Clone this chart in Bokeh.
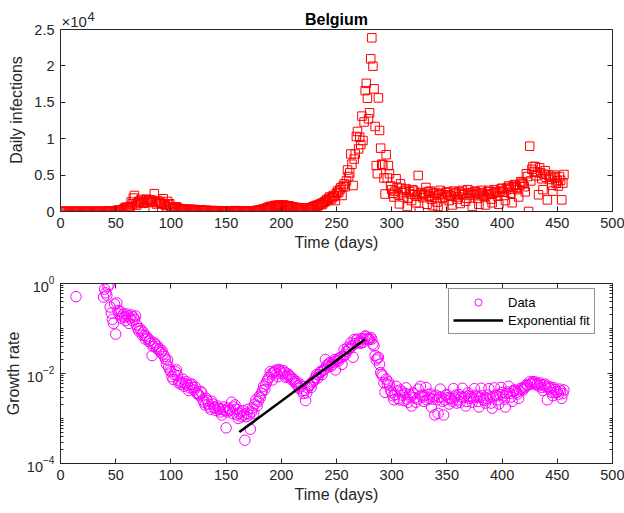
from bokeh.plotting import figure
from bokeh.models import (Range1d, FixedTicker, LinearAxis, LogAxis, Label,
                          Legend, LegendItem, LogTickFormatter, Span)
from bokeh.layouts import column
from bokeh.embed import file_html
from bokeh.resources import INLINE

nan = float("nan")

# Daily infections, one value per day starting at day 0
daily_cases = [
    0, 0, 0, 0, 0, 0, 0, 0, 0, 0,
    0, 0, 0, 0, 1, 0, 0, 0, 0, 0,
    0, 0, 0, 0, 0, 0, 0, 0, 0, 0,
    0, 0, 0, 0, 0, 0, 0, 0, 0, 1,
    6, 5, 10, 27, 59, 60, 31, 39, 28, 47,
    85, 160, 130, 197, 172, 185, 243, 309, 462, 558,
    586, 342, 526, 668, 1298, 1049, 1850, 2200, 1063, 876,
    1189, 1384, 1422, 1661, 1260, 1123, 1209, 1580, 1684, 1351,
    1629, 1447, 1580, 1236, 530, 2454, 1329, 1032, 1496, 1293,
    1236, 1120, 1100, 1750, 1000, 880, 640, 1380, 960, 1060,
    650, 520, 360, 450, 600, 640, 500, 400, 330, 300,
    280, 290, 250, 310, 330, 270, 190, 230, 280, 290,
    250, 220, 260, 200, 190, 180, 170, 210, 200, 140,
    120, 110, 150, 140, 110, 100, 90, 130, 120, 100,
    95, 85, 110, 100, 90, 80, 70, 95, 105, 90,
    40, 85, 100, 90, 95, 100, 80, 110, 120, 95,
    70, 60, 80, 75, 55, 65, 50, 20, 60, 70,
    60, 80, 35, 70, 90, 60, 100, 130, 120, 150,
    180, 200, 250, 300, 350, 280, 400, 500, 550, 600,
    700, 650, 500, 750, 800, 850, 700, 600, 900, 850,
    800, 750, 900, 850, 650, 700, 800, 750, 700, 600,
    650, 600, 550, 500, 550, 450, 400, 500, 450, 350,
    300, 350, 250, 350, 450, 500, 500, 450, 600, 650,
    700, 800, 850, 750, 900, 1000, 1100, 950, 1200, 1300,
    1400, 1600, 1500, 1800, 2000, 1700, 1900, 2200, 2100, 1500,
    2500, 2800, 2600, 3000, 3250, 2200, 3500, 3800, 3400, 4200,
    5700, 4800, 5300, 7900, 6500, 3570, 7200, 7900, 10300, 11000,
    8600, 10200, 9200, 13100, 9750, 12300, 16600, 17600, 15560, 12730,
    13560, 20970, 23860, 19960, 16850, 11680, 6300, 5200, 15600, 11130,
    8700, 6500, 6400, 4600, 2400, 7800, 4600, 6300, 5200, 3500,
    3000, 2500, 2000, 2800, 4500, 3300, 2300, 1050, 3800, 3200,
    2600, 2000, 2900, 3100, 690, 1800, 2700, 2400, 1500, 3000,
    2800, 2300, 1200, 2100, 4950, 0, 2600, 2400, 1900, 2300,
    2500, 3300, 1000, 2700, 2100, 2800, 1700, 800, 2500, 2200,
    2600, 1300, 700, 2300, 2900, 2400, 1900, 600, 2000, 2600,
    2700, 2300, 1500, 2200, 2100, 900, 2800, 2400, 2600, 1700,
    2000, 2700, 1100, 2400, 2900, 2300, 2500, 1400, 1800, 3000,
    2600, 2200, 2500, 700, 2300, 2800, 2700, 2500, 1800, 1000,
    2400, 2900, 2600, 2200, 2000, 900, 2300, 2700, 2900, 2400,
    1700, 1200, 2500, 3000, 2700, 2600, 2100, 1000, 2800, 3100,
    3200, 2700, 2200, 1500, 3000, 3300, 3500, 3100, 2500, 1200,
    3400, 3700, 3600, 3300, 3000, 2000, 3600, 4100, 4000, 3800,
    3400, 2700, 5180, 4800, 0, 8970, 4200, 5800, 6180, 5500,
    6180, 4900, 5400, 2300, 6000, 5300, 4500, 3000, 5100, 5600,
    4700, 1600, 5000, 4400, 4800, 3600, 2800, 5000, 4600, 3900,
    4200, 3500, 4800, 4300, 1600, 3900, 5080,
]

# Growth rate, one value per day (nan where no point is drawn)
growth_rate = [
    nan, nan, nan, nan, nan, nan, nan, nan, nan, nan,
    nan, nan, nan, nan, 0.51, nan, nan, nan, nan, nan,
    nan, nan, nan, nan, nan, nan, nan, nan, nan, nan,
    nan, nan, nan, nan, nan, nan, nan, nan, nan, 0.50,
    0.75, 0.62, 0.55, 0.85, 0.95, 0.30, 0.22, 0.16, 0.13, 0.35,
    0.075, 0.37, 0.25, 0.21, 0.24, 0.17, 0.19, 0.21, 0.18, 0.15,
    0.21, 0.19, 0.13, 0.17, 0.2, 0.15, 0.18, 0.16, 0.19, 0.12,
    0.10, 0.087, 0.10, 0.09, 0.072, 0.083, 0.07, 0.058, 0.066, 0.06,
    0.052, 0.055, 0.047, 0.025, 0.04, 0.048, 0.044, 0.036, 0.04, 0.033,
    0.035, 0.029, 0.032, 0.027, 0.024, 0.021, 0.016, 0.02, 0.014, 0.012,
    0.011, 0.0085, 0.0074, 0.0095, 0.011, 0.012, 0.009, 0.0062, 0.0068, 0.0058,
    0.0063, 0.0075, 0.0052, 0.006, 0.0066, 0.0055, 0.0042, 0.0048, 0.0056, 0.0058,
    0.0049, 0.0043, 0.005, 0.0038, 0.0036, 0.0034, 0.0032, 0.004, 0.0037, 0.0026,
    0.0023, 0.002, 0.0028, 0.0025, 0.0021, 0.0018, 0.0016, 0.0024, 0.0021, 0.0018,
    0.0017, 0.0015, 0.0019, 0.0017, 0.0016, 0.0014, 0.0012, 0.0016, 0.0018, 0.0015,
    0.00062, 0.0014, 0.0017, 0.0015, 0.0016, 0.0023, 0.0013, 0.0018, 0.002, 0.0016,
    0.0012, 0.001, 0.0013, 0.0014, 0.0011, 0.0015, 0.0012, 0.00033, 0.0011, 0.0013,
    0.0016, 0.0012, 0.00058, 0.0014, 0.0017, 0.0013, 0.0021, 0.0026, 0.0019, 0.0024,
    0.0031, 0.0029, 0.0036, 0.0042, 0.0052, 0.0044, 0.0058, 0.0068, 0.0075, 0.0082,
    0.011, 0.0098, 0.0072, 0.0105, 0.0112, 0.0118, 0.0098, 0.0085, 0.0123, 0.0115,
    0.0108, 0.0098, 0.0115, 0.0106, 0.0082, 0.0087, 0.0098, 0.0092, 0.0086, 0.0074,
    0.0079, 0.0073, 0.0066, 0.006, 0.0066, 0.0054, 0.0047, 0.0058, 0.0052, 0.0041,
    0.0036, 0.0042, 0.0025, 0.0037, 0.0048, 0.0055, 0.0055, 0.0049, 0.0064, 0.0068,
    0.0072, 0.0082, 0.0095, 0.0079, 0.0093, 0.0105, 0.0112, 0.0095, 0.0118, 0.0124,
    0.0204, 0.0152, 0.014, 0.0163, 0.0175, 0.0145, 0.0158, 0.0178, 0.0204, 0.012,
    0.019, 0.021, 0.019, 0.022, 0.023, 0.016, 0.024, 0.034, 0.026, 0.031,
    0.038, 0.034, 0.036, 0.048, 0.041, 0.023, 0.057, 0.046, 0.055, 0.058,
    0.048, 0.052, 0.047, 0.06, 0.049, 0.056, 0.068, 0.066, 0.06, 0.058,
    0.057, 0.063, 0.058, 0.045, 0.041, 0.025, 0.02, 0.022, 0.023, 0.016,
    0.0105, 0.0095, 0.0088, 0.0062, 0.0038, 0.0075, 0.0058, 0.0065, 0.0055, 0.0042,
    0.0038, 0.0032, 0.0026, 0.0034, 0.0052, 0.0041, 0.0028, 0.0026, 0.0043, 0.0039,
    0.0033, 0.0025, 0.0036, 0.0048, 0.0027, 0.0023, 0.0034, 0.003, 0.0019, 0.0037,
    0.0035, 0.0029, 0.0023, 0.0027, 0.0045, nan, 0.0052, 0.0033, 0.003, 0.0024,
    0.0032, 0.0049, 0.0026, 0.0034, 0.0028, 0.0035, 0.0018, 0.0027, 0.0031, 0.0012,
    0.0033, 0.0026, 0.0013, 0.003, 0.0045, 0.003, 0.0024, 0.0012, 0.0026, 0.0033,
    0.0034, 0.0029, 0.0021, 0.0028, 0.0027, 0.0024, 0.0046, 0.003, 0.0033, 0.0022,
    0.0026, 0.0034, 0.0023, 0.003, 0.0047, 0.0029, 0.0031, 0.0019, 0.0024, 0.0037,
    0.0032, 0.0028, 0.0031, 0.0023, 0.0029, 0.0046, 0.0033, 0.0031, 0.0024, 0.0018,
    0.003, 0.0047, 0.0032, 0.0027, 0.0025, 0.0022, 0.0028, 0.0033, 0.0046, 0.003,
    0.0022, 0.0017, 0.003, 0.0048, 0.0033, 0.0032, 0.0026, 0.0021, 0.0034, 0.0049,
    0.0038, 0.0032, 0.0027, 0.0018, 0.0036, 0.0039, 0.0052, 0.0036, 0.003, 0.0024,
    0.004, 0.0043, 0.0042, 0.0038, 0.0035, 0.0028, 0.0041, 0.0047, 0.0046, 0.0043,
    0.0048, 0.0052, 0.0056, 0.0054, nan, 0.0065, 0.0058, 0.0062, 0.0066, 0.006,
    0.0065, 0.0056, 0.0059, 0.0053, 0.0062, 0.0057, 0.0049, 0.0042, 0.0055, 0.0058,
    0.005, 0.0026, 0.0052, 0.0046, 0.0049, 0.0038, 0.0032, 0.0048, 0.0044, 0.0038,
    0.004, 0.0034, 0.0045, 0.0041, 0.0028, 0.0036, 0.0043,
]

days = list(range(len(daily_cases)))

# Exponential fit segment (end points)
fit_days = [162, 276]
fit_rate = [5.0e-4, 5.75e-2]

x_ticks = [0, 50, 100, 150, 200, 250, 300, 350, 400, 450, 500]
case_ticks = [0, 5000, 10000, 15000, 20000, 25000]
case_tick_labels = ["0", "0.5", "1", "1.5", "2", "2.5"]
rate_ticks = [1e-4, 1e-2, 1.0]
case_max = 25000

FONT = "Liberation Sans"
AX = "#262626"
TICK_FS = "14.5px"
LABEL_FS = "16px"


def style_axis(ax, show_labels=True):
    ax.axis_line_color = AX
    ax.major_tick_line_color = AX
    ax.minor_tick_line_color = AX
    ax.major_tick_in = 5
    ax.major_tick_out = 0
    ax.minor_tick_in = 0
    ax.minor_tick_out = 0
    ax.major_label_text_font = FONT
    ax.major_label_text_color = AX
    ax.major_label_standoff = 6
    ax.axis_label_text_font = FONT
    ax.axis_label_text_font_size = LABEL_FS
    ax.axis_label_text_font_style = "normal"
    ax.axis_label_text_color = AX
    ax.axis_label_standoff = 3
    if show_labels:
        ax.major_label_text_font_size = TICK_FS
    else:
        # box-edge axis: ticks only, labels not painted
        ax.major_label_text_font_size = "1px"
        ax.major_label_text_color = None
        ax.major_label_standoff = 0
        ax.axis_label_standoff = 0


# ---------------- Top: daily infections ----------------
# The frame reaches above the 25000 line so that the title and the axis
# exponent (drawn as labels) sit inside the drawable area; the visible box
# stops at 25000 (axis bounds + a span).
BOX_PX = 182          # pixel height of the 0..25000 box
HEAD_PX = 21          # extra pixels above the box for title / exponent
p1 = figure(frame_width=552, frame_height=BOX_PX + HEAD_PX, title=None,
            x_range=Range1d(0, 500),
            y_range=Range1d(0, case_max * (BOX_PX + HEAD_PX) / BOX_PX),
            output_backend="svg", toolbar_location=None,
            min_border_left=60, min_border_right=12,
            min_border_top=8, min_border_bottom=46)
p1.xgrid.visible = False
p1.ygrid.visible = False
p1.outline_line_color = None

p1.scatter(days, daily_cases, marker="square", size=8.5,
           fill_color=None, line_color="#ff0000", line_width=1)

p1.xaxis.ticker = FixedTicker(ticks=x_ticks)
p1.yaxis.ticker = FixedTicker(ticks=case_ticks)
p1.yaxis.major_label_overrides = dict(zip(case_ticks, case_tick_labels))
p1.yaxis.bounds = (0, case_max)
p1.xaxis.axis_label = "Time (days)"
p1.yaxis.axis_label = "Daily infections"
for ax in p1.xaxis + p1.yaxis:
    style_axis(ax)
p1.yaxis.axis_label_standoff = 6

right_ax = LinearAxis(ticker=FixedTicker(ticks=case_ticks), bounds=(0, case_max))
style_axis(right_ax, False)
p1.add_layout(right_ax, "right")
p1.add_layout(Span(location=case_max, dimension="width",
                   line_color=AX, line_width=1))

p1.add_layout(Label(x=250, y=case_max, text="Belgium", y_offset=10,
                    text_font=FONT, text_font_size="16px", text_color="black",
                    text_font_style="bold",
                    text_baseline="alphabetic", text_align="center"))
p1.add_layout(Label(x=0, y=case_max, text="×10", x_offset=1, y_offset=8,
                    text_font=FONT, text_font_size="15px", text_color=AX,
                    text_baseline="alphabetic", text_align="left"))
p1.add_layout(Label(x=0, y=case_max, text="4", x_offset=27, y_offset=13,
                    text_font=FONT, text_font_size="13px", text_color=AX,
                    text_baseline="alphabetic", text_align="left"))

# ---------------- Bottom: growth rate ----------------
minor_log = [m * 10.0 ** k for k in range(-4, 0) for m in range(2, 10)] + [1e-3, 1e-1]

p2 = figure(frame_width=552, frame_height=180,
            x_range=Range1d(0, 500), y_range=Range1d(1e-4, 1.0),
            y_axis_type="log",
            output_backend="svg", toolbar_location=None,
            min_border_left=60, min_border_right=12,
            min_border_top=26, min_border_bottom=50)
p2.xgrid.visible = False
p2.ygrid.visible = False
p2.outline_line_color = AX

r_data = p2.scatter(days, growth_rate, marker="circle", size=10.5,
                    fill_color=None, line_color="#ff00ff", line_width=1)
r_fit = p2.line(fit_days, fit_rate, line_color="black", line_width=2.6)

p2.xaxis.ticker = FixedTicker(ticks=x_ticks)
p2.yaxis.ticker = FixedTicker(ticks=rate_ticks, minor_ticks=minor_log)
p2.yaxis.formatter = LogTickFormatter()
p2.xaxis.axis_label = "Time (days)"
p2.yaxis.axis_label = "Growth rate"
for ax in p2.xaxis + p2.yaxis:
    style_axis(ax)
p2.yaxis.minor_tick_in = 3
p2.yaxis.axis_label_standoff = 2

top_ax2 = LinearAxis(ticker=FixedTicker(ticks=x_ticks))
right_ax2 = LogAxis(ticker=FixedTicker(ticks=rate_ticks, minor_ticks=minor_log))
style_axis(top_ax2, False)
style_axis(right_ax2, False)
right_ax2.minor_tick_in = 3
p2.add_layout(top_ax2, "above")
p2.add_layout(right_ax2, "right")

legend = Legend(items=[LegendItem(label="Data", renderers=[r_data]),
                       LegendItem(label="Exponential fit", renderers=[r_fit])],
                location=(388, 129), margin=0, padding=4, spacing=0,
                glyph_width=50, glyph_height=18, label_height=18,
                label_standoff=5, label_text_font=FONT,
                label_text_font_size="13px", label_text_color="black",
                border_line_color=AX, border_line_width=1,
                background_fill_color="white", background_fill_alpha=1.0)
p2.add_layout(legend)

layout = column(p1, p2, spacing=0)
open("out.html", "w").write(file_html(layout, INLINE))
